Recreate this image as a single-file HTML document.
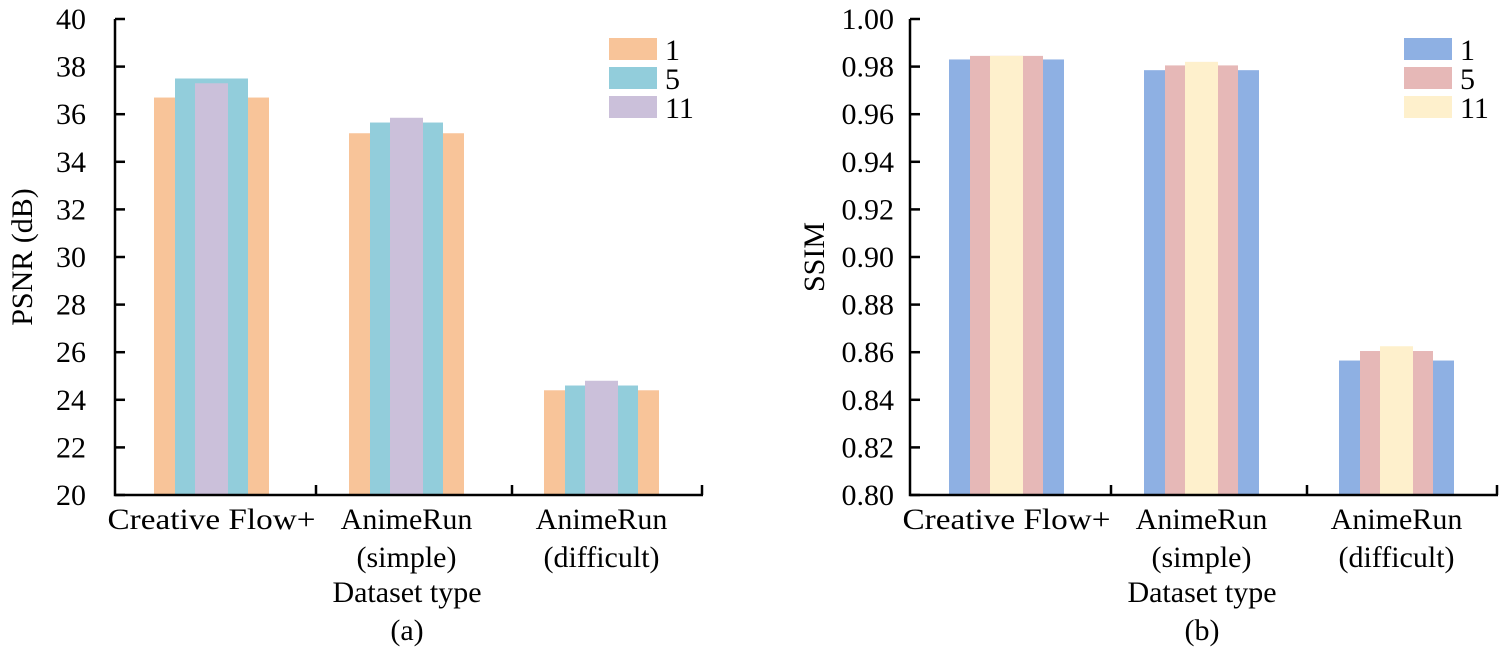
<!DOCTYPE html>
<html><head><meta charset="utf-8"><style>
body{margin:0;background:#fff;}
svg text{font-family:"Liberation Serif",serif;font-size:30px;fill:#000;}
</style></head><body>
<svg id="s" width="1501" height="653"></svg>
<script>
const categories=[["Creative Flow+"],["AnimeRun","(simple)"],["AnimeRun","(difficult)"]];
const seriesNames=["1","5","11"];
const psnr1=[36.7,35.2,24.4];
const psnr5=[37.5,35.65,24.6];
const psnr11=[37.3,35.85,24.8];
const ssim1=[0.983,0.9785,0.8565];
const ssim5=[0.9845,0.9805,0.8605];
const ssim11=[0.9845,0.982,0.8625];
const psnrTicks=[20,22,24,26,28,30,32,34,36,38,40];
const ssimTicks=[0.80,0.82,0.84,0.86,0.88,0.90,0.92,0.94,0.96,0.98,1.00];
const NS="http://www.w3.org/2000/svg";
const svg=document.getElementById('s');
function mk(t,a,p){const e=document.createElementNS(NS,t);for(const k in a)e.setAttribute(k,a[k]);(p||svg).appendChild(e);return e;}
function chart(o){
  const g=mk('g',{});
  
  
  const y=v=>495-(v-o.min)/(o.max-o.min)*476;
  const cx=i=>o.x0+96.5+i*195;
  const widths=[115,73,33];
  const series=[o.s1,o.s2,o.s3];
  for(let k=0;k<3;k++)for(let i=0;i<3;i++){
    const r=mk('rect',{x:cx(i)-widths[k]/2,y:y(series[k][i]),width:widths[k],height:495-y(series[k][i]),fill:o.colors[k]},g);
    
    
  }
  const ax=mk('path',{d:`M${o.x0} 19V495H${o.x0+588}`,stroke:'#000','stroke-width':2.5,fill:'none'},g);
  
  
  o.ticks.forEach(t=>{
    mk('line',{x1:o.x0,x2:o.x0+10,y1:y(t),y2:y(t),stroke:'#000','stroke-width':2.5},g);
    const tx=mk('text',{x:o.x0-o.gap,y:y(t)+10,'text-anchor':'end'},g);
    tx.textContent=o.fmt(t);
    
    
  });
  [201,397,587].forEach(d=>mk('line',{x1:o.x0+d,x2:o.x0+d,y1:495,y2:485,stroke:'#000','stroke-width':2.5},g));
  categories.forEach((c,i)=>c.forEach((l,j)=>{
    const a={x:cx(i),y:529+j*38,'text-anchor':'middle'};
    if(i===0){a.textLength=208;a.lengthAdjust='spacingAndGlyphs';}
    const tx=mk('text',a,g);
    tx.textContent=l;
    
    
  }));
  const xt=mk('text',{x:o.x0+292,y:602,'text-anchor':'middle'},g);xt.textContent='Dataset type';
  
  
  const cap=mk('text',{x:o.x0+292,y:640,'text-anchor':'middle'},g);cap.textContent=o.cap;
  
  
  const yt=mk('text',{x:0,y:0,'text-anchor':'middle',transform:`translate(${o.ytx},257) rotate(-90)`},g);yt.textContent=o.ytitle;
  
  
  seriesNames.forEach((n,k)=>{
    const le=mk('g',{},g);
    
    
    mk('rect',{x:o.x0+494,y:38+k*29,width:48,height:22,fill:o.colors[k]},le);
    const t=mk('text',{x:o.x0+550,y:60+k*29},le);t.textContent=n;
  });
}
chart({name:'psnr-chart',key:'psnr',x0:115,gap:29,min:20,max:40,s1:psnr1,s2:psnr5,s3:psnr11,ticks:psnrTicks,fmt:t=>String(t),colors:['#f8c499','#92cddb','#cbc0da'],ytitle:'PSNR (dB)',ytx:32,cap:'(a)'});
chart({name:'ssim-chart',key:'ssim',x0:910,gap:16,min:0.8,max:1.0,s1:ssim1,s2:ssim5,s3:ssim11,ticks:ssimTicks,fmt:t=>t.toFixed(2),colors:['#8eb0e3','#e6b8b7','#fef0cc'],ytitle:'SSIM',ytx:824,cap:'(b)'});
</script>
</body></html>
